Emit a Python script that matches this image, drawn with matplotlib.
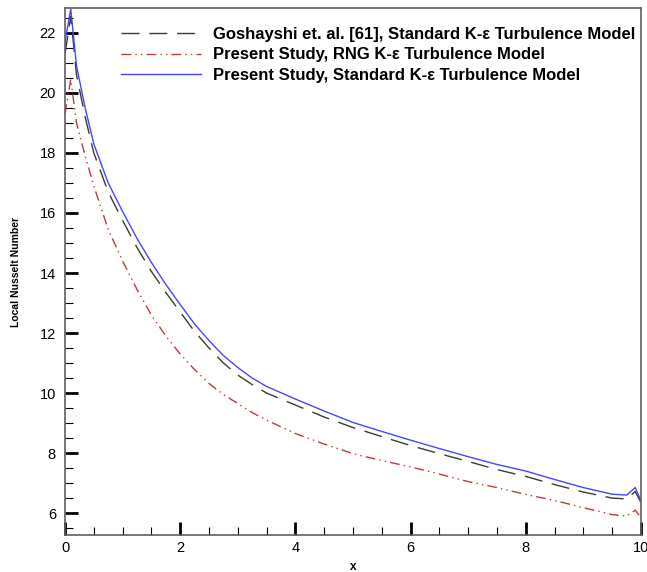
import numpy as np
import matplotlib.pyplot as plt
from matplotlib.ticker import MultipleLocator

plt.rcParams['font.family'] = ['Liberation Sans', 'DejaVu Sans']

# data
x = [0, 0.1, 0.2, 0.35, 0.5, 0.75, 1.0, 1.25, 1.5, 1.75, 2.0, 2.25, 2.5, 2.75, 3.0,
     3.25, 3.5, 4.0, 4.5, 5.0, 5.5, 6.0, 6.5, 7.0, 7.5, 8.0, 8.5, 9.0, 9.5, 9.75,
     9.9, 10.0]
nu_goshayshi = [21.3, 22.55, 20.6, 19.2, 18.0, 16.7, 15.75, 14.85, 14.05, 13.35, 12.7,
                12.05, 11.5, 11.0, 10.6, 10.28, 10.0, 9.6, 9.2, 8.85, 8.55, 8.25,
                7.98, 7.72, 7.45, 7.22, 6.95, 6.7, 6.5, 6.47, 6.72, 6.35]
nu_rng = [19.3, 20.45, 19.0, 17.9, 16.9, 15.45, 14.4, 13.45, 12.6, 11.9, 11.3,
          10.78, 10.32, 9.95, 9.65, 9.35, 9.1, 8.65, 8.3, 7.98, 7.75, 7.54,
          7.3, 7.05, 6.85, 6.62, 6.42, 6.18, 5.95, 5.9, 6.1, 5.85]
nu_standard = [21.7, 22.8, 20.9, 19.5, 18.3, 17.0, 16.05, 15.15, 14.35, 13.62, 12.95,
               12.3, 11.75, 11.25, 10.85, 10.5, 10.22, 9.8, 9.4, 9.02, 8.72, 8.43,
               8.15, 7.88, 7.62, 7.4, 7.12, 6.85, 6.63, 6.6, 6.85, 6.4]

labels = ["Goshayshi et. al. [61], Standard K-\u03b5 Turbulence Model",
          "Present Study, RNG K-\u03b5 Turbulence Model",
          "Present Study, Standard K-\u03b5 Turbulence Model"]

fig = plt.figure(figsize=(6.47, 5.72), dpi=100)
ax = fig.add_axes([65 / 647, 1 - 535 / 572, 576 / 647, 527 / 572])

ax.plot(x, nu_goshayshi, color='#3a3a3a', lw=1.0, dashes=(13, 7), label=labels[0])
ax.plot(x, nu_rng, color='#c03a3a', lw=1.0, dashes=(7, 3, 1, 3, 1, 3), label=labels[1])
ax.plot(x, nu_standard, color='#4646ff', lw=1.0, label=labels[2])

ax.set_xlim(0, 10)
ax.set_ylim(5.27, 22.83)
ax.xaxis.set_major_locator(MultipleLocator(2))
ax.xaxis.set_minor_locator(MultipleLocator(0.5))
ax.yaxis.set_major_locator(MultipleLocator(2))
ax.yaxis.set_minor_locator(MultipleLocator(0.5))
ax.tick_params(which='major', direction='in', length=9.5, width=2, labelsize=10.5)
ax.tick_params(axis='y', which='major', pad=6.5)
ax.tick_params(axis='x', which='major', pad=4)
ax.tick_params(which='minor', direction='in', length=5.5, width=0.8)
for s in ax.spines.values():
    s.set_color('#606060')
    s.set_linewidth(1.2)

ax.set_xlabel("x", fontsize=8.5, fontweight='bold', labelpad=5)
ax.set_ylabel("Local Nusselt Number", fontsize=7.5, fontweight='bold', labelpad=13.5)

leg = ax.legend(loc='upper right', bbox_to_anchor=(1.001, 0.9767), frameon=False,
                prop={'size': 12, 'weight': 'bold'},
                handlelength=4.8, handletextpad=0.7, labelspacing=0.33,
                borderaxespad=0)

fig.savefig("out.png", dpi=100)
